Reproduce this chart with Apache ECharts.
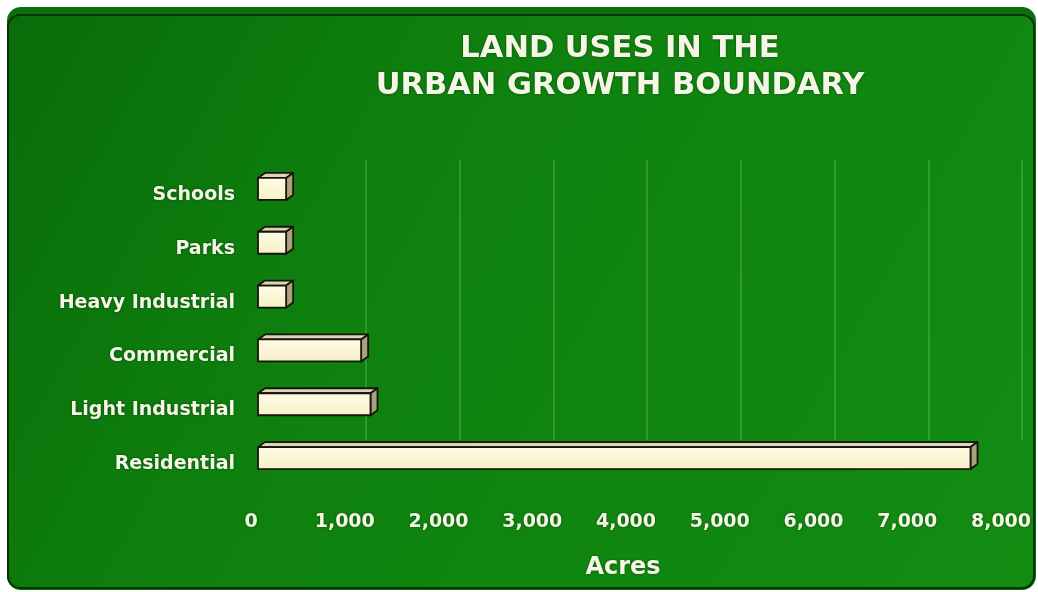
<!DOCTYPE html>
<html>
<head>
<meta charset="utf-8">
<title>Land Uses in the Urban Growth Boundary</title>
<script src="https://cdn.jsdelivr.net/npm/echarts@6/dist/echarts.min.js"></script>
<style>
  html, body { margin: 0; padding: 0; background: #ffffff; }
  #chart { width: 1038px; height: 592px; }
</style>
</head>
<body>
<div id="chart"></div>
<script>
// Land use categories, top to bottom
const categories = ['Schools', 'Parks', 'Heavy Industrial', 'Commercial', 'Light Industrial', 'Residential'];
// Acres for each category
const acres = [300, 300, 300, 1100, 1200, 7600];
// Acreage axis
const acreMin = 0;
const acreMax = 8000;
const acreStep = 1000;

const titleText = 'LAND USES IN THE\nURBAN GROWTH BOUNDARY';
const axisName = 'Acres';

const textColor = '#f6f6e6';
const fontFamily = '"DejaVu Sans", "Liberation Sans", Arial, sans-serif';
const shadow = { textShadowColor: 'rgba(0,40,0,0.6)', textShadowBlur: 3 };

// Depth of the extruded bars
const DX = 7, DY = -5;

function renderBar(params, api) {
  const value = api.value(0);
  const cat = api.value(1);
  const p0 = api.coord([acreMin, cat]);
  const p1 = api.coord([value, cat]);
  const h = 22;
  const x0 = p0[0], x1 = p1[0];
  const yTop = p0[1] - h / 2, yBot = p0[1] + h / 2;
  const line = { stroke: '#15150c', lineWidth: 1.8, lineJoin: 'round' };
  return {
    type: 'group',
    children: [
      {
        type: 'polygon',
        shape: { points: [[x0, yTop], [x0 + DX, yTop + DY], [x1 + DX, yTop + DY], [x1, yTop]] },
        style: Object.assign({ fill: '#ddd5b6' }, line)
      },
      {
        type: 'polygon',
        shape: { points: [[x1, yTop], [x1 + DX, yTop + DY], [x1 + DX, yBot + DY], [x1, yBot]] },
        style: Object.assign({ fill: '#aaa27a' }, line)
      },
      {
        type: 'rect',
        shape: { x: x0, y: yTop, width: x1 - x0, height: h },
        style: Object.assign({
          fill: new echarts.graphic.LinearGradient(0, 0, 0, 1, [
            { offset: 0, color: '#fffce6' },
            { offset: 1, color: '#f6efc6' }
          ])
        }, line)
      }
    ]
  };
}

const chart = echarts.init(document.getElementById('chart'), null, { renderer: 'canvas' });

chart.setOption({
  backgroundColor: '#ffffff',
  animation: false,
  graphic: [
    {
      type: 'rect', z: -20,
      shape: { x: 7, y: 7, width: 1029, height: 583, r: 14 },
      style: { fill: '#0d6e0d' }
    },
    {
      type: 'rect', z: -19,
      shape: { x: 8, y: 15, width: 1026, height: 573, r: [12, 12, 12, 12] },
      style: {
        fill: new echarts.graphic.LinearGradient(0, 0, 1, 1, [
          { offset: 0, color: '#0a6c0a' },
          { offset: 0.35, color: '#0e800e' },
          { offset: 1, color: '#128d12' }
        ]),
        stroke: '#093409', lineWidth: 2
      }
    }
  ],
  title: {
    text: titleText,
    left: 615,
    top: 26,
    textAlign: 'center',
    textStyle: Object.assign({
      color: textColor,
      fontFamily: fontFamily,
      fontWeight: 'bold',
      fontSize: 30.5,
      lineHeight: 37
    }, shadow)
  },
  grid: [
    { left: 258, width: 750, top: 162, height: 323 },
    { left: 272, width: 750, top: 160, height: 280 }
  ],
  xAxis: [
    {
      gridIndex: 0,
      type: 'value',
      min: acreMin, max: acreMax, interval: acreStep,
      axisLine: { show: false },
      axisTick: { show: false },
      splitLine: { show: false },
      axisLabel: Object.assign({
        color: textColor,
        fontFamily: fontFamily,
        fontWeight: 'bold',
        fontSize: 19,
        margin: 28,
        padding: [0, 14, 0, 0],
        formatter: v => v.toLocaleString('en-US')
      }, shadow),
      name: axisName,
      nameLocation: 'middle',
      nameGap: 71,
      nameTextStyle: Object.assign({
        color: textColor,
        fontFamily: fontFamily,
        fontWeight: 'bold',
        fontSize: 24,
        padding: [0, 20, 0, 0]
      }, shadow)
    },
    {
      gridIndex: 1,
      type: 'value',
      min: acreMin, max: acreMax, interval: acreStep,
      axisLine: { show: false },
      axisTick: { show: false },
      axisLabel: { show: false },
      splitLine: {
        show: true,
        showMinLine: false,
        lineStyle: { color: 'rgba(110,200,110,0.45)', width: 1.5 }
      }
    }
  ],
  yAxis: [
    {
      gridIndex: 0,
      type: 'category',
      data: categories,
      inverse: true,
      axisLine: { show: false },
      axisTick: { show: false },
      splitLine: { show: false },
      axisLabel: Object.assign({
        color: textColor,
        fontFamily: fontFamily,
        fontWeight: 'bold',
        fontSize: 19,
        margin: 23,
        verticalAlign: 'top',
        lineHeight: 12
      }, shadow)
    },
    {
      gridIndex: 1,
      type: 'value',
      show: false
    }
  ],
  series: [
    {
      type: 'custom',
      xAxisIndex: 0,
      yAxisIndex: 0,
      renderItem: renderBar,
      encode: { x: 0, y: 1 },
      data: acres.map((v, i) => [v, i]),
      z: 5
    }
  ]
});
</script>
</body>
</html>
